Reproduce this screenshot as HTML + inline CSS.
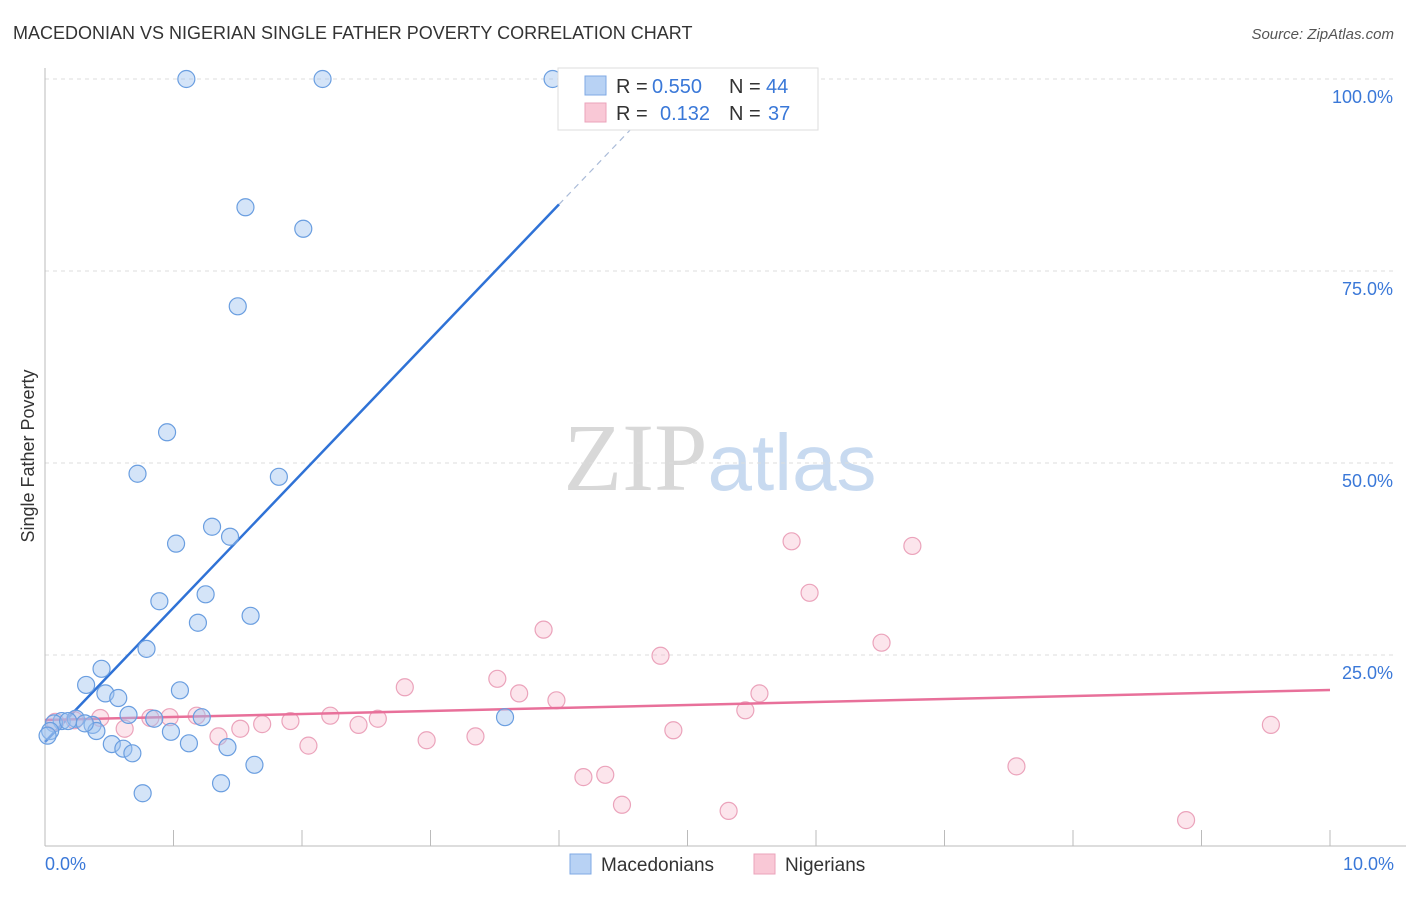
<!DOCTYPE html>
<html><head><meta charset="utf-8"><style>
body{margin:0;background:#fff;font-family:"Liberation Sans",sans-serif;}
</style></head><body>
<svg width="1406" height="892" xmlns="http://www.w3.org/2000/svg" font-family="Liberation Sans, sans-serif">
<text x="13" y="39" font-size="18" fill="#333">MACEDONIAN VS NIGERIAN SINGLE FATHER POVERTY CORRELATION CHART</text>
<text x="1394" y="39" font-size="15" fill="#555" text-anchor="end" font-style="italic">Source: ZipAtlas.com</text>
<text x="720" y="490" font-size="96" text-anchor="middle"><tspan font-family="Liberation Serif, serif" fill="#d8d8d8">ZIP</tspan><tspan fill="#c8daf0" font-size="80">atlas</tspan></text>
<g id="grid"></g>
<g id="axes"></g>
<text transform="translate(34,456) rotate(-90)" font-size="18" fill="#333" text-anchor="middle">Single Father Poverty</text>
<g id="trend"></g>
<g id="pts"></g>
<g>
<rect x="558" y="68" width="260" height="62" fill="#fff" stroke="#ddd"/>
<rect x="585" y="76" width="21" height="19" fill="#b8d2f4" stroke="#7fa9e4"/>
<rect x="585" y="103" width="21" height="19" fill="#f9c8d6" stroke="#eba3bb"/>
<text x="616" y="93" font-size="20" fill="#333">R =</text>
<text x="652" y="93" font-size="20" fill="#3a78d8">0.550</text>
<text x="729" y="93" font-size="20" fill="#333">N =</text>
<text x="766" y="93" font-size="20" fill="#3a78d8">44</text>
<text x="616" y="120" font-size="20" fill="#333">R =</text>
<text x="660" y="120" font-size="20" fill="#3a78d8">0.132</text>
<text x="729" y="120" font-size="20" fill="#333">N =</text>
<text x="768" y="120" font-size="20" fill="#3a78d8">37</text>
</g>
<g>
<rect x="570" y="854" width="21" height="20" fill="#b8d2f4" stroke="#7fa9e4"/>
<text x="601" y="871" font-size="19" fill="#333">Macedonians</text>
<rect x="754" y="854" width="21" height="20" fill="#f9c8d6" stroke="#eba3bb"/>
<text x="785" y="871" font-size="19" fill="#333">Nigerians</text>
</g>
</svg>
<script>
const blueX=[1.10,2.16,3.95,1.56,2.01,1.50,0.95,0.72,1.82,1.30,1.44,1.02,0.89,1.25,1.19,1.60,0.79,0.44,0.32,1.05,0.47,0.57,0.65,0.85,1.22,3.58,0.13,0.07,0.24,0.37,0.40,0.98,0.52,0.61,0.68,1.12,1.42,1.63,1.37,0.76,0.04,0.02,0.18,0.31];
const blueY=[100,100,100,83.3,80.5,70.4,54.0,48.6,48.2,41.7,40.4,39.5,32.0,32.9,29.2,30.1,25.8,23.2,21.1,20.4,20.0,19.4,17.2,16.7,16.9,16.9,16.4,16.1,16.7,15.9,15.1,15.0,13.4,12.8,12.2,13.5,13.0,10.7,8.3,7.0,15.1,14.5,16.4,16.1];
const pinkX=[0.08,0.23,0.43,0.62,0.82,0.97,1.18,1.35,1.52,1.69,1.91,2.05,2.22,2.44,2.59,2.80,2.97,3.35,3.52,3.69,3.88,3.98,4.19,4.36,4.49,4.79,4.89,5.32,5.45,5.56,5.81,5.95,6.51,6.75,7.56,8.88,9.54];
const pinkY=[16.3,16.5,16.8,15.4,16.8,16.9,17.1,14.4,15.4,16.0,16.4,13.2,17.1,15.9,16.7,20.8,13.9,14.4,21.9,20.0,28.3,19.1,9.1,9.4,5.5,24.9,15.2,4.7,17.8,20.0,39.8,33.1,26.6,39.2,10.5,3.5,15.9];
const yTicks=[25,50,75,100];
const yTickLabels=["25.0%","50.0%","75.0%","100.0%"];
const xTickLabels=["0.0%","10.0%"];
const blueTrend=[13.67,17.5]; const pinkTrend=[16.54,0.39];
const X=v=>45+v*128.5, Y=v=>847-v*7.68;
const NS="http://www.w3.org/2000/svg";
function mk(p,t,a){const e=document.createElementNS(NS,t);for(const k in a)e.setAttribute(k,a[k]);p.appendChild(e);return e;}
const grid=document.getElementById('grid'),axes=document.getElementById('axes'),trend=document.getElementById('trend'),pts=document.getElementById('pts');
yTicks.forEach((t,i)=>{const l=mk(grid,'line',{x1:45,x2:1395,y1:Y(t),y2:Y(t),stroke:'#ddd','stroke-dasharray':'4,4'});


const tx=mk(axes,'text',{x:1393,y:Y(t)+24,'font-size':18,fill:'#3a78d8','text-anchor':'end'});tx.textContent=yTickLabels[i];

});
mk(axes,'line',{x1:45,x2:45,y1:68,y2:846,stroke:'#bbb'});
mk(axes,'line',{x1:45,x2:1406,y1:846,y2:846,stroke:'#bbb'});
for(let i=1;i<=10;i++){const l=mk(axes,'line',{x1:X(i),x2:X(i),y1:830,y2:846,stroke:'#bbb'});

}
[[0,'start',45],[1,'end',1394]].forEach(([i,a,x])=>{const t=mk(axes,'text',{x:x,y:870,'font-size':18,fill:'#3a78d8','text-anchor':a});t.textContent=xTickLabels[i];

});
let bl=mk(trend,'line',{x1:X(0),y1:Y(blueTrend[0]),x2:X(4),y2:Y(blueTrend[0]+4*blueTrend[1]),stroke:'#2f72d6','stroke-width':2.5});


const xe=(100-blueTrend[0])/blueTrend[1];
let bd=mk(trend,'line',{x1:X(4),y1:Y(blueTrend[0]+4*blueTrend[1]),x2:X(xe),y2:Y(100),stroke:'#aabbd8','stroke-width':1.2,'stroke-dasharray':'6,5'});


pinkX.forEach((x,i)=>{const c=mk(pts,'circle',{cx:X(x),cy:Y(pinkY[i]),r:8.5,fill:'rgba(246,180,200,0.35)',stroke:'#eba3bb','stroke-width':1.2});

});
let pl=mk(trend,'line',{x1:X(0),y1:Y(pinkTrend[0]),x2:X(10),y2:Y(pinkTrend[0]+10*pinkTrend[1]),stroke:'#e8709a','stroke-width':2.5});


pts.appendChild(pl);
blueX.forEach((x,i)=>{const c=mk(pts,'circle',{cx:X(x),cy:Y(blueY[i]),r:8.5,fill:'rgba(160,196,240,0.45)',stroke:'#6a9ee0','stroke-width':1.2});

});
</script>
</body></html>
